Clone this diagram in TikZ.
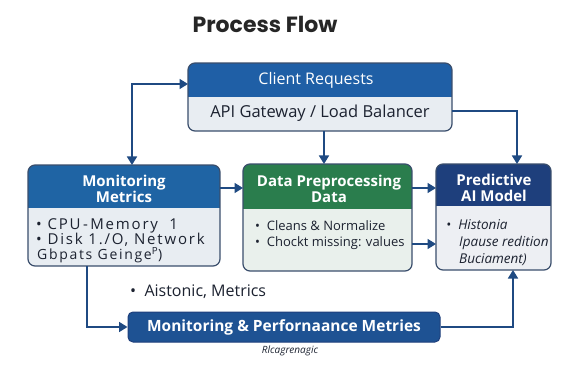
\documentclass[tikz,border=0pt]{standalone}
\usepackage{fontspec}
\setmainfont{Open Sans}
\newfontfamily\titlefont{Poppins}
\newfontfamily\widefont{Open Sans}[LetterSpace=12]
\usetikzlibrary{arrows.meta,fit,calc}
\definecolor{hdrblue}{HTML}{1F5FA6}
\definecolor{hdrmon}{HTML}{1F64A4}
\definecolor{hdrgreen}{HTML}{2A7D4D}
\definecolor{hdrnavy}{HTML}{1E3F7C}
\definecolor{bodygray}{HTML}{E8EDF2}
\definecolor{bodygreen}{HTML}{E9F0EC}
\definecolor{bodypred}{HTML}{EDEFF3}
\definecolor{bordercol}{HTML}{3A4E6C}
\definecolor{arrowcol}{HTML}{1F4A82}
\definecolor{perfblue}{HTML}{1E5293}
\definecolor{textdark}{HTML}{1C2230}
\tikzset{
  arr/.style={draw=arrowcol, line width=1.6pt, -{Triangle[length=8.5pt,width=10pt]}},
  arrboth/.style={draw=arrowcol, line width=1.6pt, {Triangle[length=8.5pt,width=10pt]}-{Triangle[length=8.5pt,width=10pt]}},
  frame/.style={draw=bordercol, line width=1.2pt, rounded corners=7pt},
  hdrtext/.style={text=white, font=\fontsize{15}{16.5}\selectfont\bfseries, align=center, inner sep=0pt},
  bodytext/.style={text=textdark, font=\fontsize{15.5}{15.5}\selectfont, align=left, anchor=north west, inner sep=0pt},
  monline/.style={text=textdark, font=\widefont\fontsize{15}{15}\selectfont, anchor=base west, inner sep=0pt},
  area/.style={inner sep=0pt, outer sep=0pt}
}
\newcommand\flowbox[8]{%
  \node[area, fit={(#2,#3) (#4,#5)}] (#1) {};
  \begin{scope}
    \clip[rounded corners=7pt] (#1.north west) rectangle (#1.south east);
    \fill[#7] (#2,#3) rectangle (#4,#6);
    \fill[#8] (#2,#6) rectangle (#4,#5);
  \end{scope}
  \draw[frame] (#1.north west) rectangle (#1.south east);
}
\begin{document}
\begin{tikzpicture}[x=1pt,y=-1pt]
\useasboundingbox[fill=white] (0,0) rectangle (565,366);
% title
\node[font=\titlefont\fontsize{22}{24}\selectfont\bfseries, text=black!85] (title) at (265,24) {Process Flow};
% boxes
\flowbox{client}{188}{63}{452}{131}{97}{hdrblue}{bodygray}
\flowbox{mon}{28}{165}{220}{266}{208}{hdrmon}{bodygray}
\flowbox{data}{243}{164}{412}{271}{209}{hdrgreen}{bodygreen}
\flowbox{pred}{436}{164}{551}{270}{206}{hdrnavy}{bodypred}
% texts
\node[text=white, font=\fontsize{16}{18}\selectfont, inner sep=0pt] (clienth) at (316,80) {Client Requests};
\node[text=textdark, font=\fontsize{16.5}{18}\selectfont, inner sep=0pt] (clientb) at (320,113) {API Gateway / Load Balancer};
\node[hdrtext] (monh) at (124,189) {Monitoring\\Metrics};
\node[monline] (monb1) at (36,229.5) {\textbullet\ CPU\,-\,Memory\ \ 1};
\node[monline] (monb2) at (36,245) {\textbullet\ Disk 1./O, Network};
\node[monline, font=\widefont\fontsize{14}{14}\selectfont] (monb3) at (37,260) {Gbpats Geinge$^{\mathrm{P}}$)};
\node[hdrtext] (datah) at (329,189) {Data Preprocessing\\Data};
\node[bodytext, font=\fontsize{13}{16}\selectfont] (datab) at (255,220) {\textbullet\ \ Cleans \& Normalize\\\textbullet\ \ Chockt missing: values};
\node[hdrtext] (predh) at (494,188) {Predictive\\AI Model};
\node[bodytext, font=\fontsize{13.5}{17}\selectfont\itshape] (predb) at (446,219) {\textbullet\ \ Histonia\\\hspace*{13pt}Ipause redition\\\hspace*{13pt}Buciament)};
\node[text=textdark, font=\fontsize{16}{17}\selectfont, anchor=west, inner sep=0pt] (aist) at (130,292) {\textbullet\ \ Aistonic, Metrics};
% bottom box
\node[draw=hdrnavy, fill=perfblue, line width=1pt, rounded corners=5pt, minimum width=312pt, minimum height=30pt, text=white, font=\fontsize{15.5}{17}\selectfont\bfseries, inner sep=0pt] (perf) at (284,327) {Monitoring \& Perfornaance Metries};
\node[text=textdark, font=\fontsize{10}{11}\selectfont\itshape, inner sep=0pt] (note) at (290,351) {Rlcagrenagic};
% connectors
\coordinate (bendA) at (132,84);
\draw[arrboth] (mon.north -| bendA) -- (bendA) -- (client.west |- bendA);
\coordinate (bendB) at (517,111);
\draw[arr] (client.east |- bendB) -- (bendB) -- (pred.north -| bendB);
\coordinate (colC) at (324,0);
\draw[arr] (client.south -| colC) -- (data.north -| colC);
\coordinate (rowD) at (0,188);
\draw[arr] (mon.east |- rowD) -- (data.west |- rowD);
\draw[arr] (data.east |- rowD) -- (pred.west |- rowD);
\coordinate (rowE) at (0,244);
\draw[arr] (data.east |- rowE) -- (pred.west |- rowE);
\coordinate (bendF) at (87,327);
\draw[arr] (mon.south -| bendF) -- (bendF) -- (perf.west |- bendF);
\coordinate (bendG) at (513,327);
\draw[arr] (perf.east |- bendG) -- (bendG) -- (pred.south -| bendG);
\end{tikzpicture}
\end{document}
